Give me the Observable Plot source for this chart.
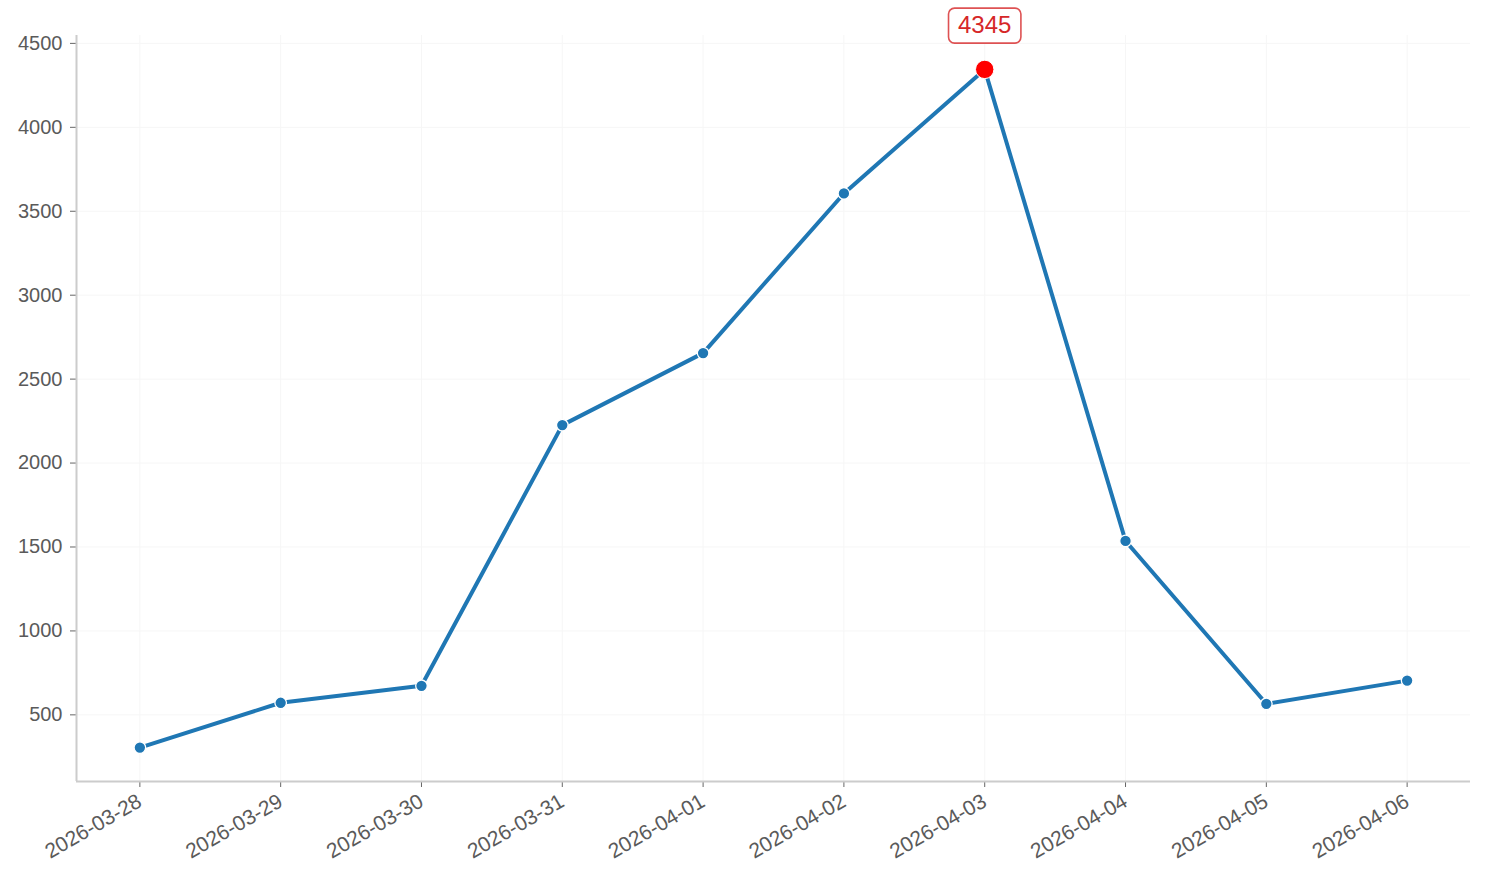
<!DOCTYPE html>
<html>
<head>
<meta charset="utf-8">
<script src="https://cdn.jsdelivr.net/npm/d3@7"></script>
<script src="https://cdn.jsdelivr.net/npm/@observablehq/plot@0.6"></script>
<style>
  html, body { margin: 0; padding: 0; background: #ffffff; }
  #chart svg { display: block; }
</style>
</head>
<body>
<div id="chart"></div>
<script>
const dates = ["2026-03-28","2026-03-29","2026-03-30","2026-03-31","2026-04-01","2026-04-02","2026-04-03","2026-04-04","2026-04-05","2026-04-06"];
const values = [305, 572, 673, 2226, 2655, 3606, 4345, 1536, 566, 704];
const yTicks = [500, 1000, 1500, 2000, 2500, 3000, 3500, 4000, 4500];

const data = dates.map((d, i) => ({date: new Date(d + "T00:00:00Z"), value: values[i]}));
const peak = data.reduce((a, b) => (b.value > a.value ? b : a));

const first = data[0].date.getTime(), last = data[data.length - 1].date.getTime();
const xPad = (last - first) * 0.05;
const vMin = d3.min(values), vMax = d3.max(values);
const yPad = (vMax - vMin) * 0.05;

const FONT = "'Liberation Sans', Arial, Helvetica, sans-serif";
const Y_FONT = 20;
const X_FONT = 21;

const plot = Plot.plot({
  width: 1485,
  height: 882,
  marginLeft: 76,
  marginRight: 15,
  marginTop: 35,
  marginBottom: 101,
  style: {fontFamily: FONT, fontSize: Y_FONT + "px", color: "#5a5a5a", background: "#fff", overflow: "visible"},
  x: {type: "utc", domain: [new Date(first - xPad), new Date(last + xPad)]},
  y: {domain: [vMin - yPad, vMax + yPad]},
  marks: [
    Plot.gridX(data.map(d => d.date), {stroke: "#f6f6f6", strokeOpacity: 1, strokeWidth: 1}),
    Plot.gridY(yTicks, {stroke: "#f6f6f6", strokeOpacity: 1, strokeWidth: 1}),
    Plot.axisX(data.map(d => d.date), {
      tickFormat: d3.utcFormat("%Y-%m-%d"), tickRotate: -30, tickSize: 6, tickPadding: 12,
      stroke: "#666", fill: "#5a5a5a", fontSize: X_FONT, label: null
    }),
    Plot.axisY(yTicks, {tickFormat: d => String(d), tickSize: 6, tickPadding: 8, stroke: "#666", fill: "#5a5a5a", fontSize: Y_FONT, label: null}),
    Plot.ruleX([new Date(first - xPad)], {stroke: "#cccccc", strokeWidth: 2}),
    Plot.ruleY([vMin - yPad], {stroke: "#cccccc", strokeWidth: 2}),
    Plot.line(data, {x: "date", y: "value", stroke: "#1f77b4", strokeWidth: 4}),
    Plot.dot(data.filter(d => d !== peak), {x: "date", y: "value", r: 5.8, fill: "#1f77b4", stroke: "#fff", strokeWidth: 1.3}),
    Plot.dot([peak], {x: "date", y: "value", r: 9.2, fill: "#ff0000", stroke: "#fff", strokeWidth: 1}),
    Plot.text([peak], {
      x: "date", y: "value", text: d => String(d.value), dy: -44,
      fill: "#d62728", fontSize: 24, fontFamily: FONT,
      render(index, scales, values, dimensions, context, next) {
        const g = next(index, scales, values, dimensions, context);
        g.setAttribute("data-annot", "1");
        return g;
      }
    })
  ]
});

document.getElementById("chart").appendChild(plot);

// Make sure tick labels use the intended size
const setFont = (sel, size) => plot.querySelectorAll(sel).forEach(g => {
  g.setAttribute("font-size", size);
  g.querySelectorAll("text").forEach(t => t.style.fontSize = size + "px");
});
setFont('g[aria-label="x-axis tick label"]', X_FONT);
setFont('g[aria-label="y-axis tick label"]', Y_FONT);

// Rounded box behind the annotation text, sized from its bounding box
const ag = plot.querySelector("[data-annot='1']");
if (ag) {
  ag.querySelectorAll("text").forEach(t => {
    const bb = t.getBBox();
    const padX = 9.5, padY = 4;
    const rect = document.createElementNS("http://www.w3.org/2000/svg", "rect");
    rect.setAttribute("x", bb.x - padX);
    rect.setAttribute("y", bb.y - padY + 1);
    rect.setAttribute("width", bb.width + 2 * padX);
    rect.setAttribute("height", bb.height + 2 * padY);
    rect.setAttribute("rx", 6);
    rect.setAttribute("fill", "#ffffff");
    rect.setAttribute("stroke", "#d62728");
    rect.setAttribute("stroke-opacity", 0.8);
    rect.setAttribute("stroke-width", 1.6);
    const tr = t.getAttribute("transform");
    if (tr) rect.setAttribute("transform", tr);
    t.parentNode.insertBefore(rect, t);
  });
}
</script>
</body>
</html>
